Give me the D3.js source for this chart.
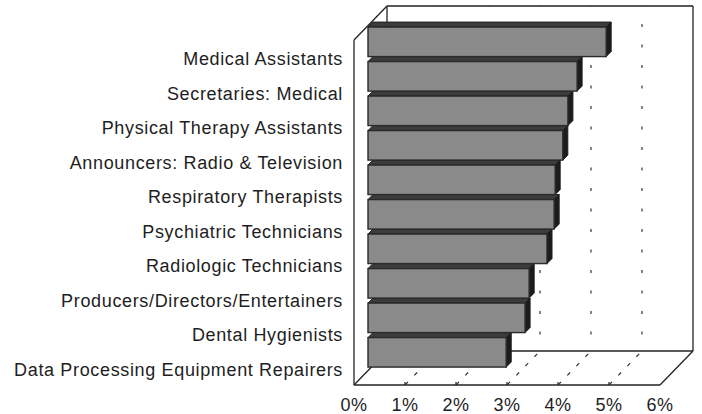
<!DOCTYPE html>
<html>
<head>
<meta charset="utf-8">
<script src="https://cdn.jsdelivr.net/npm/d3@7"></script>
<style>
  body { margin: 0; background: #fff; }
  text { font-family: "Liberation Sans", Arial, sans-serif; fill: #1e1e1e; }
</style>
</head>
<body>
<svg id="chart"></svg>
<script>
// data
var categories = [
  "Medical Assistants",
  "Secretaries: Medical",
  "Physical Therapy Assistants",
  "Announcers: Radio & Television",
  "Respiratory Therapists",
  "Psychiatric Technicians",
  "Radiologic Technicians",
  "Producers/Directors/Entertainers",
  "Dental Hygienists",
  "Data Processing Equipment Repairers"
];
var values = [4.67, 4.10, 3.92, 3.82, 3.67, 3.65, 3.51, 3.16, 3.08, 2.71];
var tickValues = [0, 1, 2, 3, 4, 5, 6];
var tickLabels = ["0%", "1%", "2%", "3%", "4%", "5%", "6%"];

var width = 702, height = 414;
var plotLeft = 354, plotRight = 660, plotTop = 40, plotBottom = 385;
// depth of the box (3d offset)
var depthX = 33, depthY = 34;
// bars sit partway into the box
var barDepth = 14 / 33, barThick = 5;

var svg = d3.select("#chart")
    .attr("width", width)
    .attr("height", height);

var xScale = d3.scaleLinear().domain([0, 6]).range([plotLeft, plotRight]);
var yScale = d3.scaleBand().domain(categories).range([plotTop, plotBottom]);

function line(x1, y1, x2, y2) {
  return svg.append("line")
    .attr("x1", x1).attr("y1", y1)
    .attr("x2", x2).attr("y2", y2)
    .attr("stroke", "#222")
    .attr("stroke-width", 1.3);
}

// back wall outline
var backTop = plotTop - depthY, backBottom = plotBottom - depthY;
line(plotLeft + depthX, backTop, plotRight + depthX, backTop);
line(plotRight + depthX, backTop, plotRight + depthX, backBottom);
line(plotLeft + depthX, backTop, plotLeft + depthX, backBottom);

// dotted gridlines on the back wall
svg.selectAll(".grid")
  .data(tickValues.slice(1, 6))
  .enter().append("line")
  .attr("class", "grid")
  .attr("x1", function(d) { return xScale(d) + depthX; })
  .attr("x2", function(d) { return xScale(d) + depthX; })
  .attr("y1", backTop)
  .attr("y2", backBottom)
  .attr("stroke", "#333")
  .attr("stroke-width", 1.2)
  .attr("stroke-dasharray", "3,17.5")
  .attr("stroke-dashoffset", 2.5);

// dashed gridlines across the floor
svg.selectAll(".floorgrid")
  .data(tickValues.slice(1, 6))
  .enter().append("line")
  .attr("class", "floorgrid")
  .attr("x1", function(d) { return xScale(d) + depthX; })
  .attr("y1", backBottom)
  .attr("x2", function(d) { return xScale(d); })
  .attr("y2", plotBottom)
  .attr("stroke", "#333")
  .attr("stroke-width", 1.2)
  .attr("stroke-dasharray", "4,9")
  .attr("stroke-dashoffset", -4);

// floor outline
line(plotLeft + depthX, backBottom, plotRight + depthX, backBottom);
line(plotLeft, plotBottom, plotRight, plotBottom);
line(plotLeft, plotBottom, plotLeft + depthX, backBottom);
line(plotRight, plotBottom, plotRight + depthX, backBottom);

// left wall outline
line(plotLeft, plotTop, plotLeft, plotBottom);
line(plotLeft, plotTop, plotLeft + depthX, backTop);

// small ticks on the front edge
svg.selectAll(".tick")
  .data(tickValues.slice(1, 6))
  .enter().append("line")
  .attr("x1", function(d) { return xScale(d); })
  .attr("x2", function(d) { return xScale(d); })
  .attr("y1", plotBottom)
  .attr("y2", plotBottom - 3)
  .attr("stroke", "#222")
  .attr("stroke-width", 1.2);

// bars, drawn from the bottom up
var offX = barDepth * depthX, offY = barDepth * depthY;
var bars = categories.map(function(c, i) { return { name: c, value: values[i] }; }).reverse();

var barG = svg.selectAll(".bar")
  .data(bars)
  .enter().append("g")
  .attr("class", "bar");

function faceTop(d) { return yScale(d.name) - offY + 1.5; }
function faceBottom(d) { return yScale(d.name) + yScale.bandwidth() - offY - 3.5; }
function faceLeft() { return xScale(0) + offX; }
function faceRight(d) { return xScale(d.value) + offX; }

// top face
barG.append("polygon")
  .attr("points", function(d) {
    var t = faceTop(d), l = faceLeft(), r = faceRight(d);
    return [[l, t], [l + barThick, t - barThick], [r + barThick, t - barThick], [r, t]].join(" ");
  })
  .attr("fill", "#3c3c3c")
  .attr("stroke", "#222")
  .attr("stroke-width", 1);

// side face
barG.append("polygon")
  .attr("points", function(d) {
    var t = faceTop(d), b = faceBottom(d), r = faceRight(d);
    return [[r, t], [r + barThick, t - barThick], [r + barThick, b - barThick], [r, b]].join(" ");
  })
  .attr("fill", "#1c1c1c")
  .attr("stroke", "#1c1c1c")
  .attr("stroke-width", 1);

// front face
barG.append("rect")
  .attr("x", faceLeft)
  .attr("y", faceTop)
  .attr("width", function(d) { return faceRight(d) - faceLeft(); })
  .attr("height", function(d) { return faceBottom(d) - faceTop(d); })
  .attr("fill", "#8a8a8a")
  .attr("stroke", "#2a2a2a")
  .attr("stroke-width", 1.4);

// category labels
svg.selectAll(".label")
  .data(categories)
  .enter().append("text")
  .attr("class", "label")
  .attr("x", plotLeft - 11)
  .attr("y", function(d) { return yScale(d) + yScale.bandwidth() / 2 + 8; })
  .attr("text-anchor", "end")
  .style("font-size", "18px")
  .style("letter-spacing", "0.65px")
  .text(function(d) { return d; });

// x tick labels
svg.selectAll(".xlabel")
  .data(tickValues)
  .enter().append("text")
  .attr("class", "xlabel")
  .attr("x", function(d) { return xScale(d); })
  .attr("y", 411)
  .attr("text-anchor", "middle")
  .style("font-size", "18px")
  .style("letter-spacing", "0.5px")
  .text(function(d, i) { return tickLabels[i]; });
</script>
</body>
</html>
